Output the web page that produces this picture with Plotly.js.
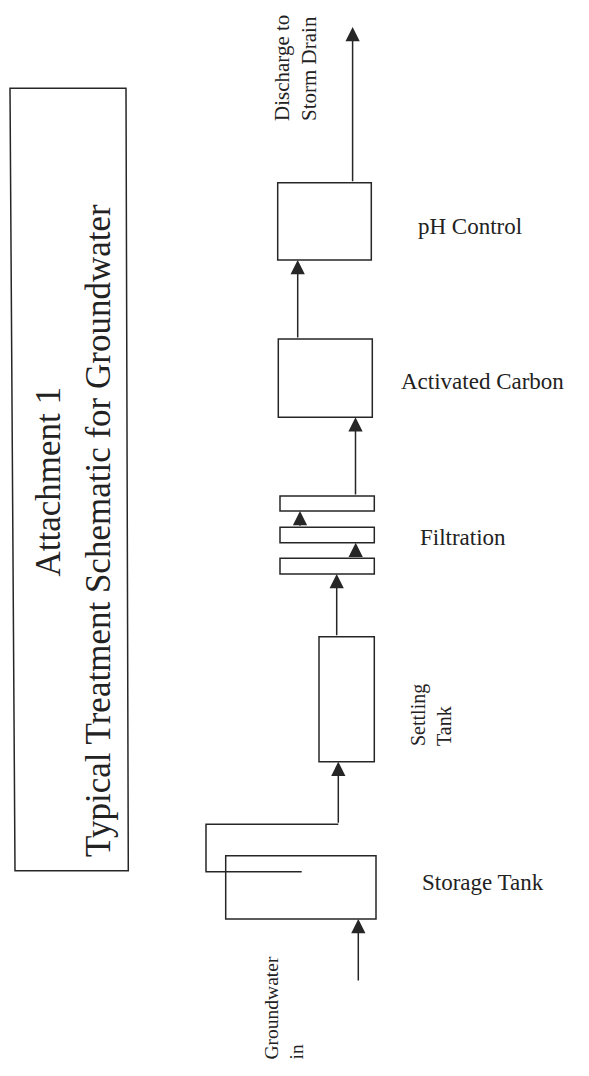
<!DOCTYPE html>
<html>
<head>
<meta charset="utf-8">
<script src="https://cdn.plot.ly/plotly-3.0.1.min.js"></script>
<style>
html, body { margin: 0; padding: 0; background: #ffffff; }
#chart { width: 589px; height: 1076px; }
</style>
</head>
<body>
<div id="chart"></div>
<script>
// ---- content (text) ----
const titleLines = ["Attachment 1", "Typical Treatment Schematic for Groundwater"];
const stageNames = ["Storage Tank", "Settling<br>Tank", "Filtration", "Activated Carbon", "pH Control"];
const inletLabel = "Groundwater<br>in";
const outletLabel = "Discharge to<br>Storm Drain";

// ---- diagram geometry (page units, y grows downward) ----
// process vessels: storage tank, settling tank, activated carbon, pH control
const vesselLeft   = [225.7, 319.0, 278.3, 277.7];
const vesselRight  = [376.0, 374.3, 372.3, 371.3];
const vesselTop    = [855.7, 636.7, 339.0, 182.7];
const vesselBottom = [919.0, 761.7, 417.3, 260.0];
// filtration slats
const slatTop    = [496.0, 527.3, 558.3];
const slatBottom = [511.0, 542.7, 574.0];
const slatLeft = 280.0, slatRight = 374.3;
// flow arrows (x, tail y, head y)
const arrowX    = [358.3, 338.3, 336.7, 355.7, 300.0, 355.5, 297.7, 352.6];
const arrowTail = [982.0, 824.3, 636.7, 558.3, 527.3, 496.0, 339.0, 182.7];
const arrowHead = [919.0, 761.7, 574.0, 542.7, 511.0, 417.3, 260.0, 27.0];
// overflow pipe from storage tank (x, y vertices)
const pipeX = [301.7, 206.0, 206.0, 338.3];
const pipeY = [871.7, 871.7, 824.3, 824.3];
// title frame corners (slightly skewed scan)
const frameX = [10.0, 126.0, 128.3, 15.0];
const frameY = [88.3, 88.3, 870.7, 870.7];

const INK = '#262626';
const TXT = '#222222';
const LW = 1.5;

const shapes = [];
for (let i = 0; i < vesselLeft.length; i++) {
  shapes.push({type: 'rect', xref: 'x', yref: 'y',
    x0: vesselLeft[i], x1: vesselRight[i], y0: vesselTop[i], y1: vesselBottom[i],
    line: {color: INK, width: LW}, fillcolor: 'rgba(0,0,0,0)'});
}
for (let i = 0; i < slatTop.length; i++) {
  shapes.push({type: 'rect', xref: 'x', yref: 'y',
    x0: slatLeft, x1: slatRight, y0: slatTop[i], y1: slatBottom[i],
    line: {color: INK, width: LW}, fillcolor: 'rgba(0,0,0,0)'});
}
let pipePath = 'M' + pipeX[0] + ',' + pipeY[0];
for (let i = 1; i < pipeX.length; i++) pipePath += ' L' + pipeX[i] + ',' + pipeY[i];
shapes.push({type: 'path', xref: 'x', yref: 'y', path: pipePath,
  line: {color: INK, width: LW}});
let framePath = 'M' + frameX[0] + ',' + frameY[0];
for (let i = 1; i < frameX.length; i++) framePath += ' L' + frameX[i] + ',' + frameY[i];
framePath += ' Z';
shapes.push({type: 'path', xref: 'x', yref: 'y', path: framePath,
  line: {color: INK, width: LW}, fillcolor: 'rgba(0,0,0,0)'});

const annotations = [];
for (let i = 0; i < arrowX.length; i++) {
  annotations.push({xref: 'x', yref: 'y', axref: 'x', ayref: 'y',
    x: arrowX[i], y: arrowHead[i], ax: arrowX[i], ay: arrowTail[i],
    text: '', showarrow: true, arrowhead: 2, arrowsize: 1.9, arrowwidth: LW,
    arrowcolor: INK, standoff: 0, startstandoff: 0});
}

const serif = 'Liberation Serif, Times New Roman, serif';

// title
annotations.push({xref: 'x', yref: 'y', x: 48, y: 481.5, text: titleLines[0],
  showarrow: false, textangle: -90, xanchor: 'center', yanchor: 'middle',
  font: {family: serif, size: 35, color: TXT}});
annotations.push({xref: 'x', yref: 'y', x: 98, y: 531, text: titleLines[1],
  showarrow: false, textangle: -90, xanchor: 'center', yanchor: 'middle',
  font: {family: serif, size: 35, color: TXT}});

// horizontal stage labels
const hLabelIdx = [0, 2, 3, 4];
const hLabelX = [420, 418, 399, 416];
const hLabelY = [882, 537, 381.7, 226];
for (let k = 0; k < hLabelIdx.length; k++) {
  annotations.push({xref: 'x', yref: 'y', x: hLabelX[k], y: hLabelY[k],
    text: stageNames[hLabelIdx[k]], showarrow: false,
    xanchor: 'left', yanchor: 'middle',
    font: {family: serif, size: 23, color: TXT}});
}
// rotated labels
annotations.push({xref: 'x', yref: 'y', x: 431, y: 748, text: stageNames[1],
  showarrow: false, textangle: -90, align: 'left', xanchor: 'center', yanchor: 'bottom',
  font: {family: serif, size: 20, color: TXT}});
annotations.push({xref: 'x', yref: 'y', x: 295, y: 123, text: outletLabel,
  showarrow: false, textangle: -90, align: 'left', xanchor: 'center', yanchor: 'bottom',
  font: {family: serif, size: 21, color: TXT}});
annotations.push({xref: 'x', yref: 'y', x: 283, y: 1062, text: inletLabel,
  showarrow: false, textangle: -90, align: 'left', xanchor: 'center', yanchor: 'bottom',
  font: {family: serif, size: 19.5, color: TXT}});

const layout = {
  width: 589, height: 1076,
  margin: {l: 0, r: 0, t: 0, b: 0, pad: 0},
  paper_bgcolor: '#ffffff', plot_bgcolor: '#ffffff',
  xaxis: {range: [0, 589], visible: false, fixedrange: true, showgrid: false, zeroline: false},
  yaxis: {range: [1076, 0], visible: false, fixedrange: true, showgrid: false, zeroline: false},
  showlegend: false,
  shapes: shapes,
  annotations: annotations
};

Plotly.newPlot('chart', [{x: [], y: [], type: 'scatter', mode: 'lines', hoverinfo: 'skip'}], layout,
  {staticPlot: true, displayModeBar: false});
</script>
</body>
</html>
